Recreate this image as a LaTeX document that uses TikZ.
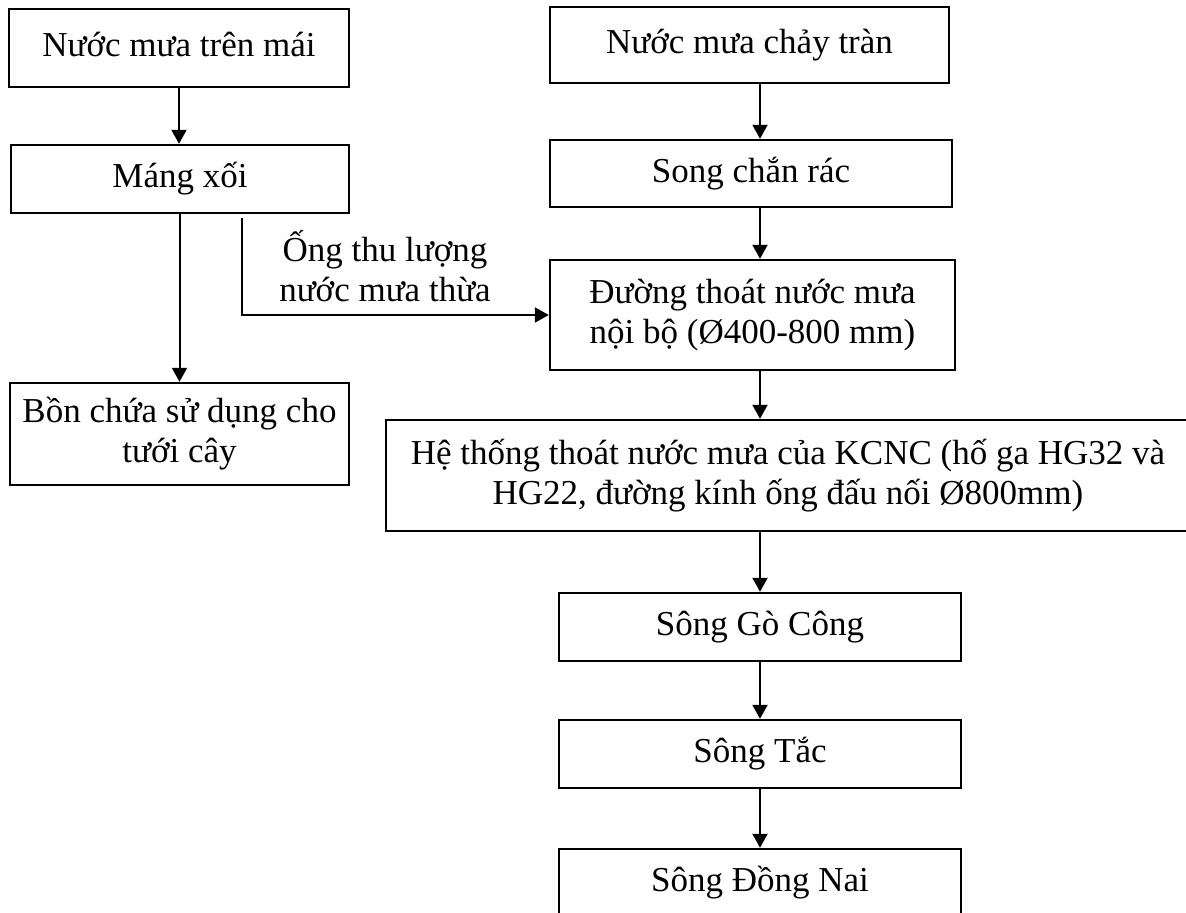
\documentclass[tikz,border=0pt]{standalone}
\usepackage{fontspec}
\setmainfont{Liberation Serif}
\usetikzlibrary{arrows.meta}

\begin{document}
\begin{tikzpicture}[
  x=0.5pt, y=-0.5pt,
  box/.style 2 args={draw, line width=1.2pt, minimum width=#1*0.5pt,
    minimum height=#2*0.5pt, inner sep=0pt, align=center,
    font=\fontsize{17.5pt}{20pt}\selectfont,
    text height=13.125pt, text depth=4.375pt},
  twoline/.style={text height=33.125pt, text depth=4.375pt},
  flow/.style={line width=1pt, -{Triangle[length=7pt,width=7.5pt]}},
  lbl/.style={align=center, inner sep=0pt, font=\fontsize{17.5pt}{20pt}\selectfont}
]
\useasboundingbox (0,0) rectangle (1186,913);
\clip (0,0) rectangle (1186,913);

% left branch: roof water
\node[box={340}{78}]  (roof)   at (179,48)    {Nước mưa trên mái};
\node[box={338}{68}]  (gutter) at (180,179)   {Máng xối};
\node[box={339}{102}, twoline] (tank) at (179.5,434) {Bồn chứa sử dụng cho\\tưới cây};

% right column: surface runoff to the rivers
\node[box={399}{76}]  (runoff) at (749.5,45)  {Nước mưa chảy tràn};
\node[box={402}{67}]  (screen) at (751,173.5) {Song chắn rác};
\node[box={405}{110}, twoline] (drain) at (752.5,315) {Đường thoát nước mưa\\nội bộ (Ø400-800 mm)};
\node[box={804}{111}, twoline] (park) at (788,475.5) {Hệ thống thoát nước mưa của KCNC (hố ga HG32 và\\HG22, đường kính ống đấu nối Ø800mm)};
\node[box={402}{68}]  (gocong) at (760,627)   {Sông Gò Công};
\node[box={402}{68}]  (tac)    at (760,754)   {Sông Tắc};
\node[box={402}{68}]  (dongnai) at (760,883)  {Sông Đồng Nai};

% helper points
\coordinate (spine) at (760,0);
\coordinate (ovf) at (242,218);

% left branch connectors
\draw[flow] (roof.south) -- (roof.south |- gutter.north);
\draw[flow] (tank.north |- gutter.south) -- (tank.north);
\draw[flow] (ovf) |- (drain.west);
\node[lbl] (ovflbl) at (385,266) {Ống thu lượng\\nước mưa thừa};

% right column connectors
\draw[flow] (runoff.south -| spine) -- (screen.north -| spine);
\draw[flow] (screen.south -| spine) -- (drain.north -| spine);
\draw[flow] (drain.south -| spine) -- (park.north -| spine);
\draw[flow] (park.south -| spine) -- (gocong.north -| spine);
\draw[flow] (gocong.south -| spine) -- (tac.north -| spine);
\draw[flow] (tac.south -| spine) -- (dongnai.north -| spine);
\end{tikzpicture}
\end{document}
